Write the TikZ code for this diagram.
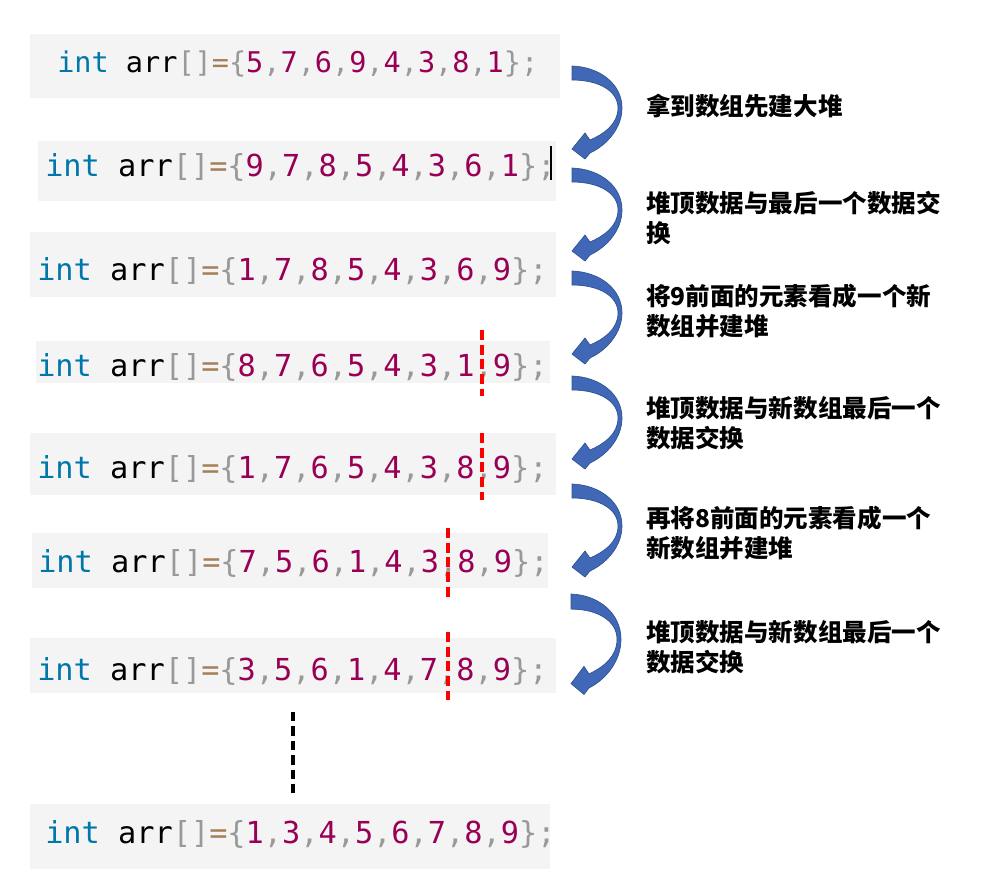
\documentclass[tikz,border=0pt]{standalone}
\usepackage{fontspec}
\setmonofont{DejaVu Sans Mono}
\newfontfamily\cjk{Noto Sans CJK SC}
\definecolor{kw}{RGB}{0,119,170}
\definecolor{nm}{RGB}{153,0,85}
\definecolor{pu}{RGB}{153,153,153}
\definecolor{opc}{RGB}{166,127,89}
\definecolor{boxbg}{RGB}{244,244,244}
\definecolor{arrfill}{RGB}{64,104,182}
\definecolor{arredge}{RGB}{47,82,143}
\newcommand\cdl[8]{\textcolor{kw}{int} arr\textcolor{pu}{[]}\textcolor{opc}{=}\textcolor{pu}{\{}\textcolor{nm}{#1}\textcolor{pu}{,}\textcolor{nm}{#2}\textcolor{pu}{,}\textcolor{nm}{#3}\textcolor{pu}{,}\textcolor{nm}{#4}\textcolor{pu}{,}\textcolor{nm}{#5}\textcolor{pu}{,}\textcolor{nm}{#6}\textcolor{pu}{,}\textcolor{nm}{#7}\textcolor{pu}{,}\textcolor{nm}{#8}\textcolor{pu}{\};}}
\tikzset{
  codebox/.style={fill=boxbg, draw=none},
  codetext/.style={anchor=base west, inner sep=0pt, font=\fontsize{22.7pt}{26pt}\ttfamily},
  label/.style={anchor=west, inner sep=0pt, align=left, font=\fontsize{18.4pt}{22.5pt}\cjk\bfseries},
  cutline/.style={draw=red, line width=2.4pt, dash pattern=on 7.5pt off 3.5pt},
  gapline/.style={draw=black, line width=2.4pt, dash pattern=on 7pt off 3.8pt},
  carrow/.pic={
    \filldraw[fill=arrfill, draw=arredge, line width=0.5pt]
      (0,0) .. controls (28,1) and (50,18) .. (50,42)
      .. controls (50,62) and (35,79) .. (18,87)
      -- (13,93) -- (0,83) -- (13,67) -- (18,74)
      .. controls (32,68) and (46,58) .. (46,42)
      .. controls (46,25) and (27,14) .. (0,14) -- cycle;
  }
}
\begin{document}
\begin{tikzpicture}[x=0.75pt,y=-0.75pt]
\useasboundingbox (0,0) rectangle (1004,872);
% code boxes
\fill[codebox] (30,34) rectangle (560,98);
\fill[codebox] (38,141) rectangle (556,201);
\fill[codebox] (30,232) rectangle (556,297);
\fill[codebox] (36,341) rectangle (550,383);
\fill[codebox] (30,433) rectangle (556,495);
\fill[codebox] (32,533) rectangle (548,588);
\fill[codebox] (30,638) rectangle (556,693);
\fill[codebox] (30,804) rectangle (550,869);
% code lines
\node[codetext, font=\fontsize{21.4pt}{26pt}\ttfamily] (c1) at (57,72) {\cdl{5}{7}{6}{9}{4}{3}{8}{1}};
\node[codetext] (c2) at (45,176) {\cdl{9}{7}{8}{5}{4}{3}{6}{1}};
\node[codetext] (c3) at (37,280) {\cdl{1}{7}{8}{5}{4}{3}{6}{9}};
\node[codetext] (c4) at (37,376) {\cdl{8}{7}{6}{5}{4}{3}{1}{9}};
\node[codetext] (c5) at (37,478) {\cdl{1}{7}{6}{5}{4}{3}{8}{9}};
\node[codetext] (c6) at (38,572) {\cdl{7}{5}{6}{1}{4}{3}{8}{9}};
\node[codetext] (c7) at (37,680) {\cdl{3}{5}{6}{1}{4}{7}{8}{9}};
\node[codetext] (c8) at (45,843) {\cdl{1}{3}{4}{5}{6}{7}{8}{9}};
% caret
\draw[black, line width=1.2pt] (551,146) -- (551,180);
% red cut lines
\draw[cutline] (482,330) -- (482,396);
\draw[cutline] (482,433) -- (482,500);
\draw[cutline] (448,528) -- (448,597);
\draw[cutline] (448,632) -- (448,700);
% gap
\draw[gapline] (293,712) -- (293,795);
% arrows
\pic at (572,66) {carrow};
\pic at (572,168) {carrow};
\pic at (572,271) {carrow};
\pic at (572,376) {carrow};
\pic at (572,484) {carrow};
\pic[yscale=1.08] at (571,594) {carrow};
% labels
\node[label] (l1) at (646,106) {拿到数组先建大堆};
\node[label] (l2) at (646,218) {堆顶数据与最后一个数据交\\换};
\node[label] (l3) at (646,311) {将9前面的元素看成一个新\\数组并建堆};
\node[label] (l4) at (646,423) {堆顶数据与新数组最后一个\\数据交换};
\node[label] (l5) at (646,533) {再将8前面的元素看成一个\\新数组并建堆};
\node[label] (l6) at (646,647) {堆顶数据与新数组最后一个\\数据交换};
\end{tikzpicture}
\end{document}
